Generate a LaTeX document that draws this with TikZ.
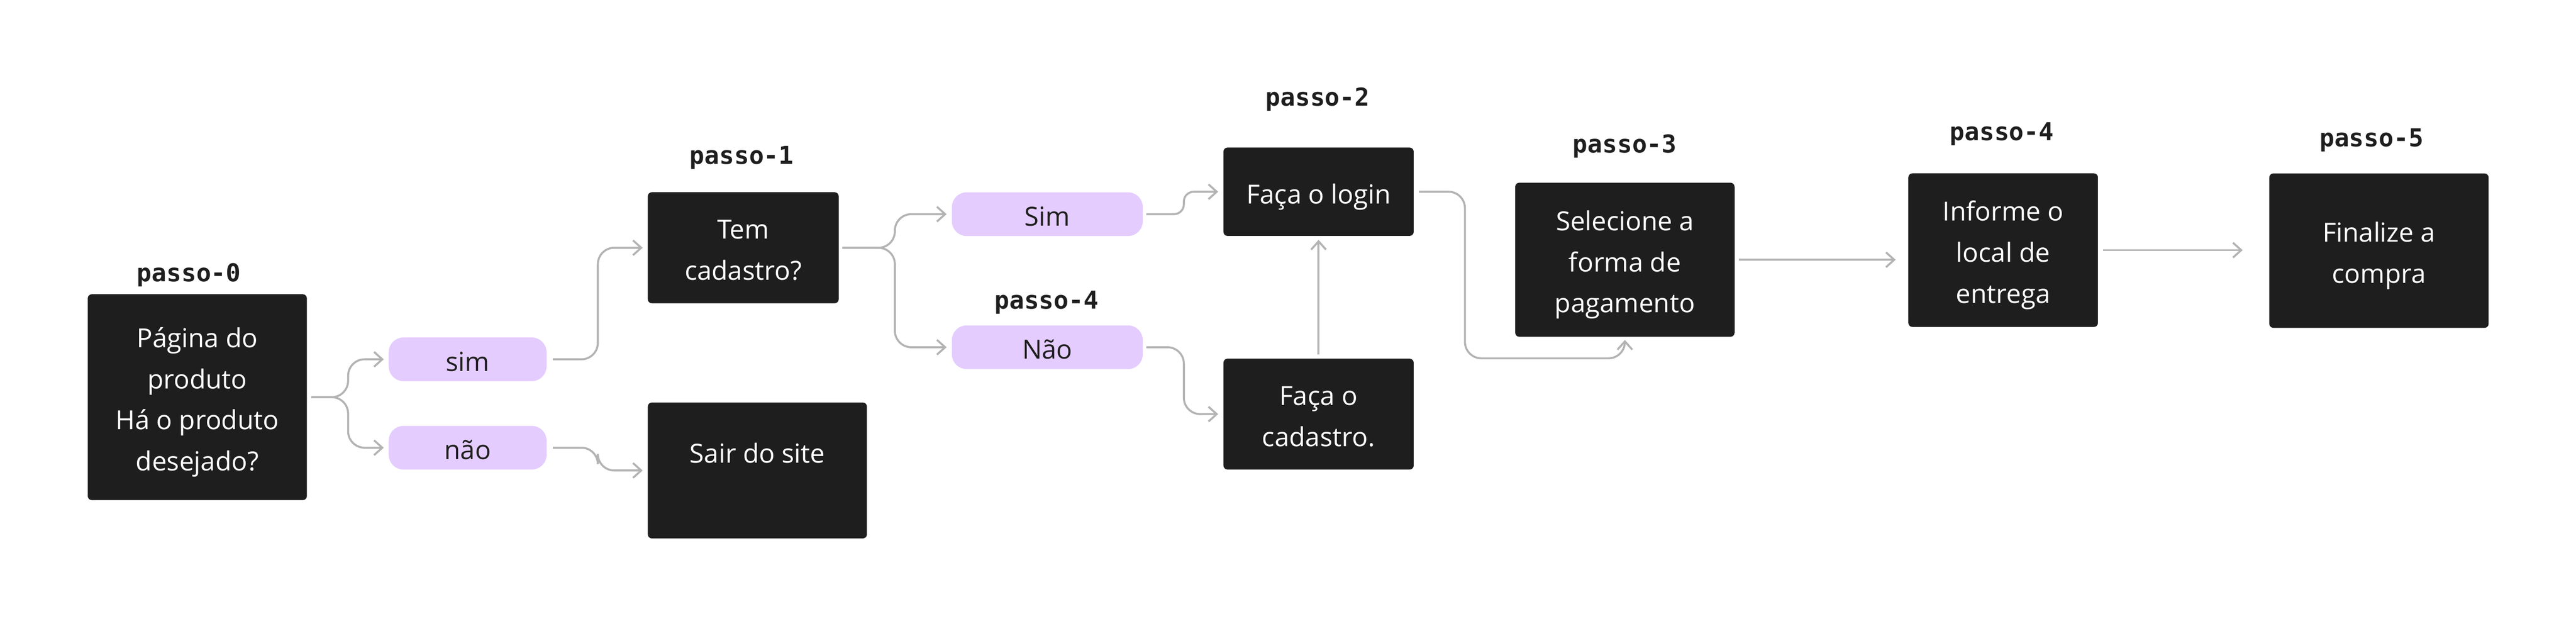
\documentclass[tikz,border=0pt]{standalone}
\usepackage{fontspec}
\setmainfont{Open Sans}
\newfontfamily\stepmono{DejaVu Sans Mono}
\usetikzlibrary{arrows.meta}
\definecolor{boxbg}{HTML}{1E1E1E}
\definecolor{pillbg}{HTML}{E4CCFF}
\definecolor{wirecol}{HTML}{B3B3B3}
\newcommand{\lowtext}[1]{\raisebox{-2.2pt}[\height][\depth]{\begin{tabular}{@{}c@{}}#1\end{tabular}}}
\begin{document}
\begin{tikzpicture}[x=1pt,y=-1pt,
  stepbox/.style={fill=boxbg, text=white, rounded corners=2.5pt, inner sep=0pt,
    font=\fontsize{16}{25}\selectfont},
  pill/.style={fill=pillbg, text=boxbg, rounded corners=9pt, inner sep=0pt,
    font=\fontsize{16}{25}\selectfont, minimum height=26.6pt},
  steplabel/.style={anchor=base, inner sep=0pt, text=boxbg,
    font=\stepmono\bfseries\fontsize{15}{18}\selectfont},
  conn/.style={draw=wirecol, line width=1.2pt, rounded corners=10pt,
    -{Straight Barb[length=5pt,width=9pt]}},
]
\fill[white] (0,0) rectangle (1568,381);
\useasboundingbox (0,0) rectangle (1568,381);

% boxes
\node[stepbox, minimum width=133.4pt, minimum height=125.3pt] (b0) at (120.1,241.75)
  {\lowtext{Página do\\produto\\Há o produto\\desejado?}};
\node[pill, minimum width=96.1pt] (sim) at (284.65,218.7) {\lowtext{sim}};
\node[pill, minimum width=96.1pt] (nao) at (284.65,272.5) {\lowtext{não}};
\node[stepbox, minimum width=116.2pt, minimum height=67.6pt] (tem) at (452.4,150.8)
  {\lowtext{Tem\\cadastro?}};
\node[stepbox, minimum width=133.4pt, minimum height=82.7pt,
  label={[anchor=center, text=white, font=\fontsize{16}{25}\selectfont, yshift=-29.8pt]north:\lowtext{Sair do site}}]
  (sair) at (461,286.35) {};
\node[pill, minimum width=116.2pt] (sim2) at (637.5,130.35) {\lowtext{Sim}};
\node[pill, minimum width=116.2pt] (nao2) at (637.5,211.35) {\lowtext{Não}};
\node[stepbox, minimum width=115.8pt, minimum height=53.8pt] (login) at (802.6,116.7)
  {\lowtext{Faça o login}};
\node[stepbox, minimum width=115.8pt, minimum height=67.5pt] (cad) at (802.6,252.05)
  {\lowtext{Faça o\\cadastro.}};
\node[stepbox, minimum width=133.5pt, minimum height=93.8pt] (sel) at (989.05,158.1)
  {\lowtext{Selecione a\\forma de\\pagamento}};
\node[stepbox, minimum width=115.4pt, minimum height=93.5pt] (inf) at (1219.3,152.25)
  {\lowtext{Informe o\\local de\\entrega}};
\node[stepbox, minimum width=133.5pt, minimum height=94pt] (fin) at (1448.05,152.55)
  {\lowtext{Finalize a\\compra}};

% step labels
\node[steplabel] (l0) at (115,171.3) {passo-0};
\node[steplabel] (l1) at (451.5,100) {passo-1};
\node[steplabel] (l2) at (802,64.5) {passo-2};
\node[steplabel] (l4a) at (637,188) {passo-4};
\node[steplabel] (l3) at (989,93) {passo-3};
\node[steplabel] (l4b) at (1218.5,85.3) {passo-4};
\node[steplabel] (l5) at (1443.5,89.3) {passo-5};

% connectors
\draw[conn] ([xshift=2.5pt]b0.east) -- ++(22.4,0) |- ([xshift=-2.8pt]sim.west);
\draw[conn] ([xshift=2.5pt]b0.east) -- ++(22.4,0) |- ([xshift=-2.8pt]nao.west);
\draw[conn] ([xshift=3.6pt]sim.east) -- ++(27.4,0) |- ([xshift=-2.9pt]tem.west);
\draw[conn] ([xshift=3.6pt]nao.east) -- ++(27.4,0) |- ([xshift=-2.9pt]sair.west);
\draw[conn] ([xshift=2pt]tem.east) -- ++(32,0) |- ([xshift=-3pt]sim2.west);
\draw[conn] ([xshift=2pt]tem.east) -- ++(32,0) |- ([xshift=-3pt]nao2.west);
\draw[conn, rounded corners=6pt] ([xshift=2pt]sim2.east) -- ++(22.8,0) |- ([xshift=-3pt]login.west);
\draw[conn] ([xshift=2pt]nao2.east) -- ++(22.8,0) |- ([xshift=-3pt]cad.west);
\draw[conn] ([yshift=2.2pt]cad.north) -- ([yshift=-2.2pt]login.south);
\draw[conn] ([xshift=3pt]login.east) -- ++(28,0) -- ++(0,101.4) -| ([yshift=-1.7pt]sel.south);
\draw[conn] ([xshift=2.5pt]sel.east) -- ([xshift=-7.5pt]sel.east -| inf.west);
\draw[conn] ([xshift=3pt]inf.east) -- ([xshift=-16pt]inf.east -| fin.west);
\end{tikzpicture}
\end{document}
